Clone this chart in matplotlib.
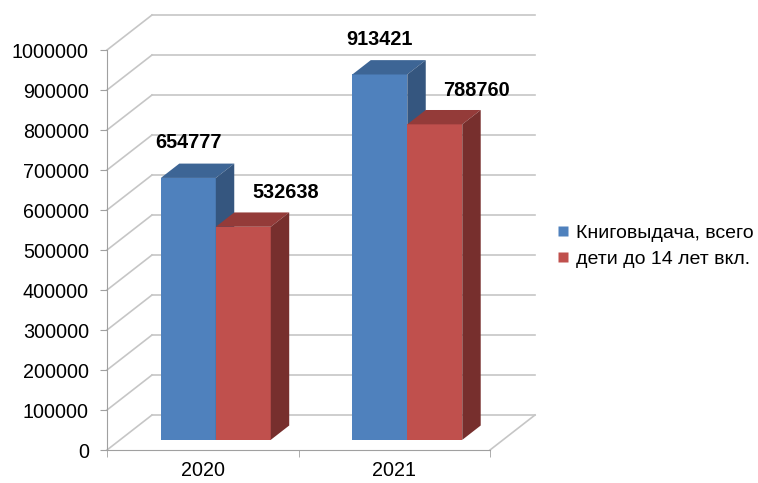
import matplotlib
matplotlib.use("Agg")
import matplotlib.pyplot as plt
from matplotlib.patches import Polygon
from matplotlib.lines import Line2D

plt.rcParams['font.family'] = ['Liberation Sans', 'DejaVu Sans']

categories = ['2020', '2021']
series_names = ['Книговыдача, всего', 'дети до 14 лет вкл.']
total = [654777, 913421]
children = [532638, 788760]
values = [total, children]
y_ticks = [0, 100000, 200000, 300000, 400000, 500000, 600000, 700000, 800000, 900000, 1000000]

front_colors = ['#4F81BD', '#C0504D']
top_colors = ['#3D6595', '#943B39']
side_colors = ['#35567F', '#772F2D']
label_offsets = [(0, 35), (42, 34)]

fig = plt.figure(figsize=(7.58, 4.83), dpi=100)
ax = fig.add_axes([107/758, 33/483, 383/758, 400/483])
ax.set_xlim(-0.5, 1.5)
ax.set_ylim(0, 1000000)

# depth vector in data units (full depth)
px_x = 2.0 / 383
px_y = 1000000 / 400
DX = 45 * px_x
DY = 35 * px_y

def P(x, v, d):
    return (x + d * DX, v + d * DY)

grid_c = '#C6C6C6'
axis_c = '#A0A0A0'

# back wall gridlines and left wall diagonals
for v in y_ticks:
    x0, y0 = P(-0.5, v, 1)
    x1, y1 = P(1.5, v, 1)
    ax.plot([x0, x1], [y0, y1], color=grid_c, lw=1.2, clip_on=False, zorder=1)
    fx, fy = P(-0.5, v, 0)
    ax.plot([fx, x0], [fy, y0], color=grid_c, lw=1.2, clip_on=False, zorder=1)
# floor right edge
a = P(1.5, 0, 0); b = P(1.5, 0, 1)
ax.plot([a[0], b[0]], [a[1], b[1]], color=grid_c, lw=1.2, clip_on=False, zorder=1)

# bars
w = 0.287
d1, d2 = 0.29, 0.70
z = 3
for i in range(len(categories)):
    for j in range(len(values)):
        v = values[j][i]
        xl = i - w + j * w + d1 * DX
        xr = xl + w
        ax.bar(xl, v, width=w, bottom=d1 * DY, align='edge',
               color=front_colors[j], edgecolor='none', zorder=z, clip_on=False)
        top = [P(xl - d1 * DX, v, d1), P(xr - d1 * DX, v, d1), P(xr - d1 * DX, v, d2), P(xl - d1 * DX, v, d2)]
        ax.add_patch(Polygon(top, closed=True, facecolor=top_colors[j], edgecolor='none',
                             zorder=z, clip_on=False))
        side = [P(xr - d1 * DX, 0, d1), P(xr - d1 * DX, v, d1), P(xr - d1 * DX, v, d2), P(xr - d1 * DX, 0, d2)]
        ax.add_patch(Polygon(side, closed=True, facecolor=side_colors[j], edgecolor='none',
                             zorder=z, clip_on=False))
        cx, cy = P(xl + w / 2 - d1 * DX, v, d1)
        ax.annotate(f'{v}', (cx, cy), xytext=label_offsets[j], textcoords='offset pixels',
                    ha='center', va='center', fontsize=14.3, fontweight='bold', color='black',
                    zorder=10, annotation_clip=False)
        z += 1

# axes styling
for s in ['top', 'right']:
    ax.spines[s].set_visible(False)
ax.spines['left'].set_color(axis_c)
ax.spines['bottom'].set_color(axis_c)
ax.spines['left'].set_zorder(2)
ax.spines['bottom'].set_zorder(2)
ax.set_facecolor('none')
ax.set_yticks(y_ticks)
ax.set_yticklabels([str(t) for t in y_ticks])
ax.tick_params(axis='y', length=5, color=axis_c, pad=8, labelsize=14.2)
ax.set_xticks([0, 1])
ax.set_xticklabels(categories)
ax.set_xticks([-0.5, 0.5, 1.5], minor=True)
ax.tick_params(axis='x', which='major', length=0, pad=8, labelsize=14.2)
ax.tick_params(axis='x', which='minor', length=5, color=axis_c)

handles = [Line2D([], [], marker='s', linestyle='none', markersize=6.5,
                  markerfacecolor=c, markeredgecolor='none') for c in front_colors]
fig.legend(handles, series_names, loc='center left', bbox_to_anchor=(557/758, 1 - 246/483),
           frameon=False, fontsize=14, handlelength=0.6, handletextpad=0.4,
           labelspacing=0.45, borderaxespad=0, borderpad=0)

fig.savefig('out.png', dpi=100)
